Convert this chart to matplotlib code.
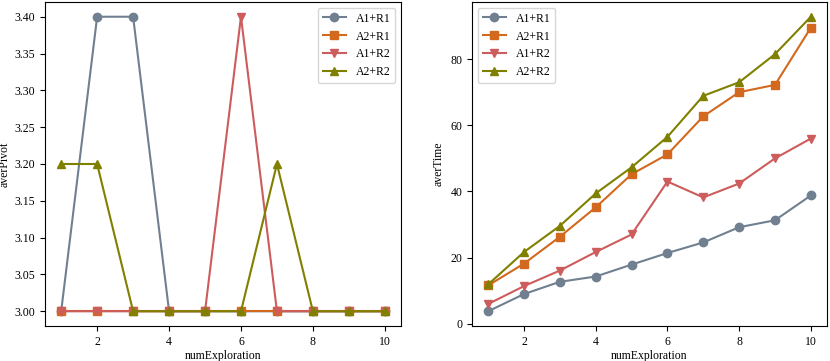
import matplotlib
matplotlib.use("Agg")
import matplotlib.pyplot as plt

x = [1, 2, 3, 4, 5, 6, 7, 8, 9, 10]
labels = ["A1+R1", "A2+R1", "A1+R2", "A2+R2"]

pivot_a1r1 = [3.0, 3.4, 3.4, 3.0, 3.0, 3.0, 3.0, 3.0, 3.0, 3.0]
pivot_a2r1 = [3.0, 3.0, 3.0, 3.0, 3.0, 3.0, 3.0, 3.0, 3.0, 3.0]
pivot_a1r2 = [3.0, 3.0, 3.0, 3.0, 3.0, 3.4, 3.0, 3.0, 3.0, 3.0]
pivot_a2r2 = [3.2, 3.2, 3.0, 3.0, 3.0, 3.0, 3.2, 3.0, 3.0, 3.0]

time_a1r1 = [3.8, 9.0, 12.7, 14.3, 17.9, 21.4, 24.6, 29.2, 31.3, 38.8]
time_a2r1 = [11.6, 18.2, 26.3, 35.2, 45.2, 51.2, 62.7, 70.0, 72.2, 89.5]
time_a1r2 = [6.0, 11.4, 16.1, 21.7, 27.0, 43.0, 38.2, 42.4, 50.0, 56.0]
time_a2r2 = [11.9, 21.7, 29.6, 39.4, 47.3, 56.5, 68.9, 73.0, 81.5, 92.8]

colors = ["#708090", "#D2691E", "#CD5C5C", "#808000"]
markers = ["o", "s", "v", "^"]

plt.rcParams["font.family"] = ["Liberation Serif", "DejaVu Serif"]
plt.rcParams["font.size"] = 8.5

fig = plt.figure(figsize=(8.30, 3.61), dpi=100)
ax1 = fig.add_axes([45/830, 1 - 326/361, 356/830, 324/361])
ax2 = fig.add_axes([472/830, 1 - 326/361, 355/830, 324/361])

for ys, lab, c, m in zip([pivot_a1r1, pivot_a2r1, pivot_a1r2, pivot_a2r2], labels, colors, markers):
    ax1.plot(x, ys, color=c, marker=m, label=lab, linewidth=1.5, markersize=6)
for ys, lab, c, m in zip([time_a1r1, time_a2r1, time_a1r2, time_a2r2], labels, colors, markers):
    ax2.plot(x, ys, color=c, marker=m, label=lab, linewidth=1.5, markersize=6)

ax1.set_ylabel("averPivot")
ax1.yaxis.set_label_coords(-0.097, 0.5)
ax1.set_xlabel("numExploration", labelpad=2)
ax1.set_yticks([3.0, 3.05, 3.1, 3.15, 3.2, 3.25, 3.3, 3.35, 3.4])
ax1.set_yticklabels(["3.00", "3.05", "3.10", "3.15", "3.20", "3.25", "3.30", "3.35", "3.40"])
ax1.set_xticks([2, 4, 6, 8, 10])
ax1.legend(loc="upper right")

ax2.set_ylabel("averTime")
ax2.yaxis.set_label_coords(-0.076, 0.5)
ax2.set_xlabel("numExploration", labelpad=2)
ax2.set_xticks([2, 4, 6, 8, 10])
ax2.set_yticks([0, 20, 40, 60, 80])
ax2.legend(loc="upper left")

fig.savefig("out.png", dpi=100)
